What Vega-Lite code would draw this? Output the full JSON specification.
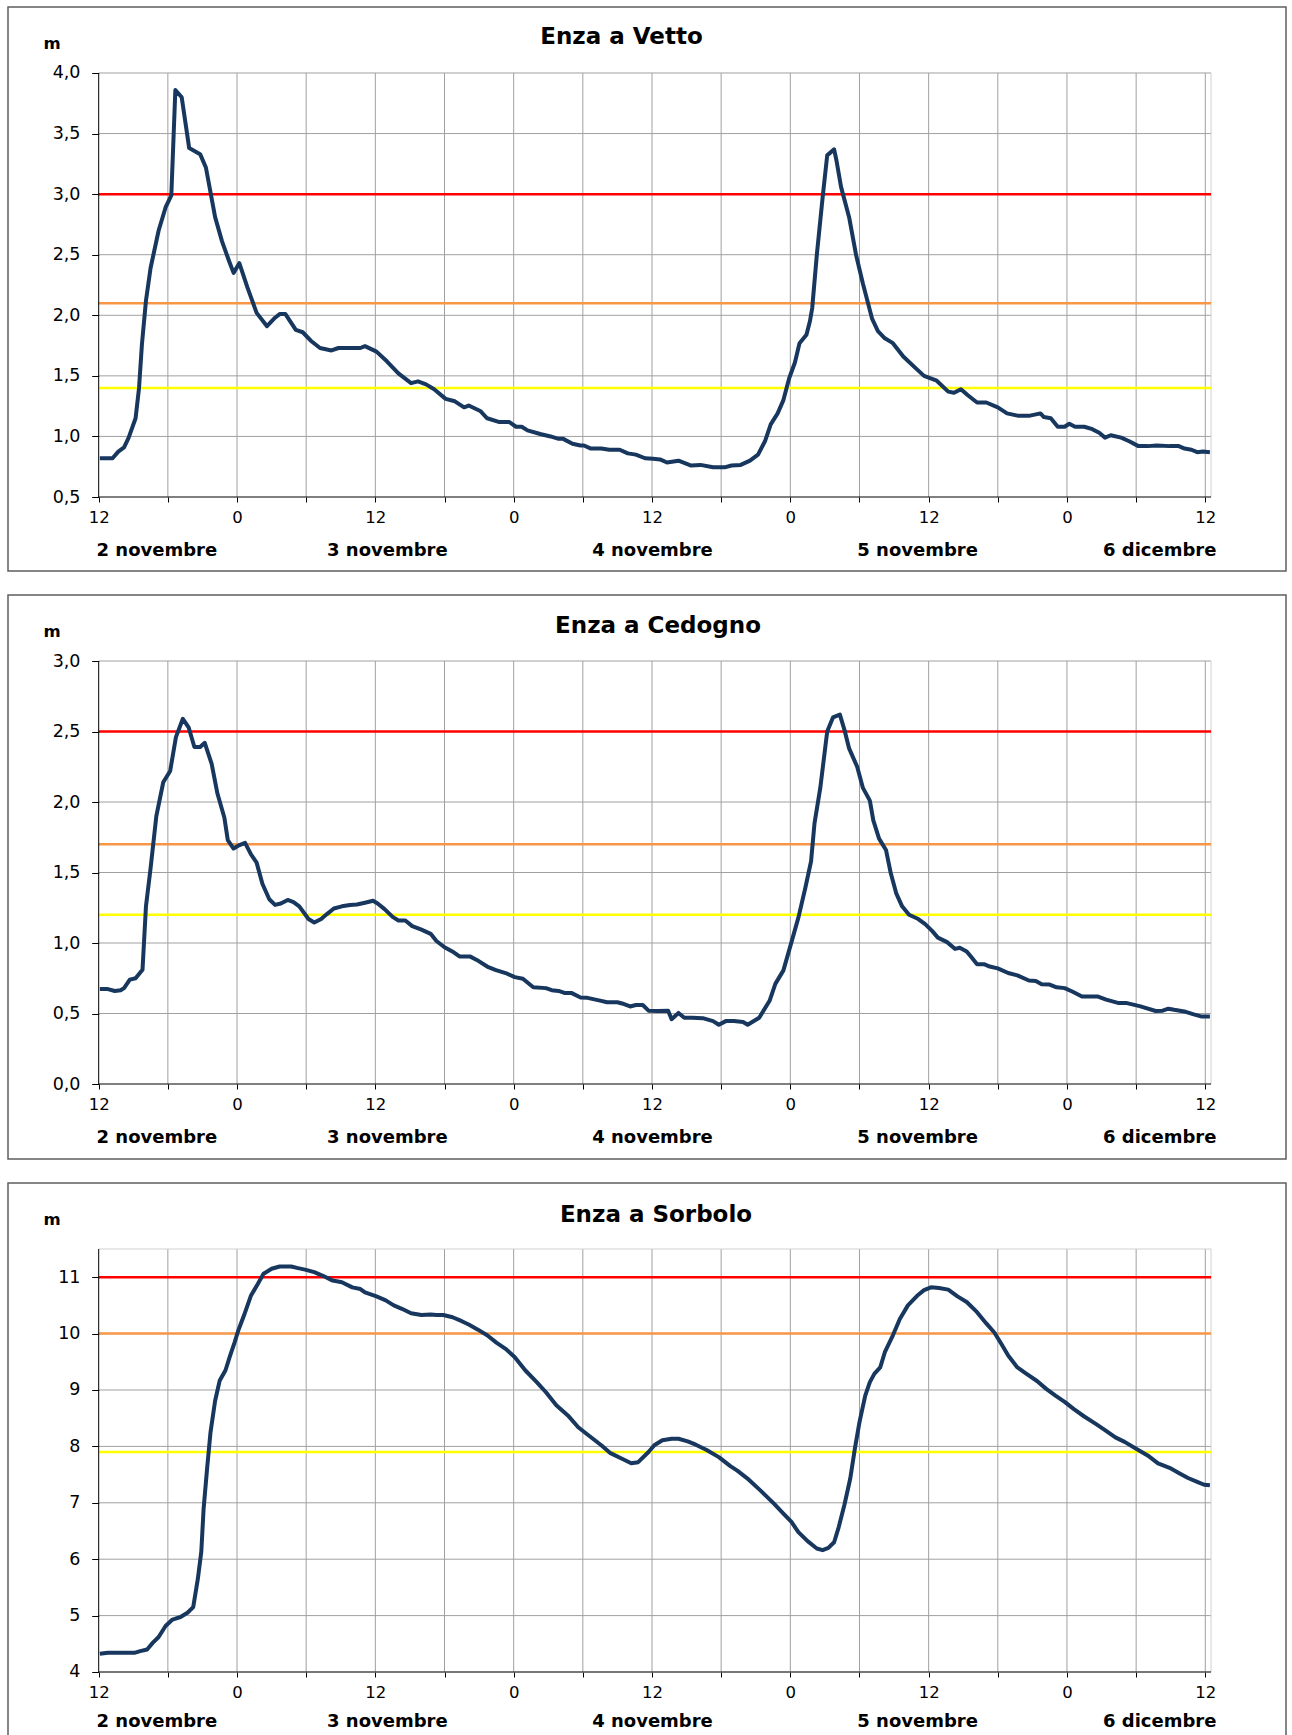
{
  "$schema": "https://vega.github.io/schema/vega-lite/v6.json",
  "background": "white",
  "padding": {"left": 7, "top": 6, "right": 0, "bottom": 0},
  "spacing": 22,
  "config": {
    "view": {"stroke": "#5f5f5f", "strokeWidth": 1.5, "fill": "white"},
    "axis": {"grid": false, "domain": false, "tickColor": "#000", "tickWidth": 1, "labelColor": "#000", "labelFont": "DejaVu Sans", "titleFont": "DejaVu Sans", "labelFlush": false, "labelOverlap": false, "labelBound": false},
    "title": {"font": "DejaVu Sans", "fontWeight": "bold", "color": "#000", "fontSize": 23, "anchor": "middle", "frame": "group", "baseline": "middle"}
  },
  "datasets": {
    "vetto": [
      {"ora":0.1,"livello":0.82},{"ora":1.2,"livello":0.82},{"ora":1.7,"livello":0.875},{"ora":2.2,"livello":0.91},{"ora":2.6,"livello":0.99},{"ora":3.2,"livello":1.15},{"ora":3.5,"livello":1.40},{"ora":3.75,"livello":1.76},{"ora":4.1,"livello":2.12},{"ora":4.5,"livello":2.39},{"ora":5.2,"livello":2.70},{"ora":5.8,"livello":2.89},{"ora":6.3,"livello":2.99},{"ora":6.65,"livello":3.86},{"ora":7.2,"livello":3.80},{"ora":7.85,"livello":3.38},{"ora":8.8,"livello":3.33},{"ora":9.3,"livello":3.22},{"ora":10.1,"livello":2.81},{"ora":10.7,"livello":2.61},{"ora":11.3,"livello":2.45},{"ora":11.7,"livello":2.35},{"ora":12.2,"livello":2.43},{"ora":12.9,"livello":2.23},{"ora":13.7,"livello":2.02},{"ora":14.6,"livello":1.91},{"ora":15.3,"livello":1.98},{"ora":15.7,"livello":2.01},{"ora":16.2,"livello":2.01},{"ora":17.1,"livello":1.88},{"ora":17.7,"livello":1.86},{"ora":18.4,"livello":1.79},{"ora":19.2,"livello":1.73},{"ora":20.2,"livello":1.71},{"ora":20.8,"livello":1.73},{"ora":21.7,"livello":1.73},{"ora":22.7,"livello":1.73},{"ora":23.1,"livello":1.745},{"ora":24.1,"livello":1.70},{"ora":25.0,"livello":1.62},{"ora":26.0,"livello":1.52},{"ora":27.1,"livello":1.44},{"ora":27.7,"livello":1.455},{"ora":28.4,"livello":1.43},{"ora":29.1,"livello":1.39},{"ora":30.1,"livello":1.31},{"ora":30.9,"livello":1.29},{"ora":31.7,"livello":1.24},{"ora":32.1,"livello":1.255},{"ora":33.1,"livello":1.21},{"ora":33.7,"livello":1.15},{"ora":34.7,"livello":1.12},{"ora":35.6,"livello":1.12},{"ora":36.2,"livello":1.08},{"ora":36.7,"livello":1.08},{"ora":37.2,"livello":1.05},{"ora":38.3,"livello":1.02},{"ora":39.2,"livello":1.00},{"ora":39.9,"livello":0.98},{"ora":40.3,"livello":0.98},{"ora":41.1,"livello":0.94},{"ora":41.8,"livello":0.925},{"ora":42.1,"livello":0.925},{"ora":42.7,"livello":0.90},{"ora":43.6,"livello":0.90},{"ora":44.3,"livello":0.89},{"ora":45.2,"livello":0.89},{"ora":45.9,"livello":0.86},{"ora":46.6,"livello":0.85},{"ora":47.4,"livello":0.82},
      {"ora":48.1,"livello":0.815},{"ora":48.7,"livello":0.81},{"ora":49.3,"livello":0.785},{"ora":50.3,"livello":0.80},{"ora":51.4,"livello":0.76},{"ora":52.2,"livello":0.765},{"ora":53.3,"livello":0.745},{"ora":54.3,"livello":0.745},{"ora":54.9,"livello":0.76},{"ora":55.7,"livello":0.765},{"ora":56.5,"livello":0.80},{"ora":57.2,"livello":0.85},{"ora":57.8,"livello":0.96},{"ora":58.3,"livello":1.10},{"ora":58.9,"livello":1.19},{"ora":59.4,"livello":1.30},{"ora":59.9,"livello":1.48},{"ora":60.4,"livello":1.61},{"ora":60.8,"livello":1.77},{"ora":61.4,"livello":1.84},{"ora":61.7,"livello":1.95},{"ora":61.9,"livello":2.06},{"ora":62.3,"livello":2.50},{"ora":62.8,"livello":2.97},{"ora":63.2,"livello":3.32},{"ora":63.8,"livello":3.37},{"ora":64.0,"livello":3.28},{"ora":64.4,"livello":3.06},{"ora":65.1,"livello":2.81},{"ora":65.7,"livello":2.50},{"ora":66.3,"livello":2.26},{"ora":67.1,"livello":1.97},{"ora":67.6,"livello":1.87},{"ora":68.2,"livello":1.81},{"ora":68.9,"livello":1.77},{"ora":69.8,"livello":1.66},{"ora":70.8,"livello":1.57},{"ora":71.6,"livello":1.50},{"ora":72.7,"livello":1.46},{"ora":73.7,"livello":1.37},{"ora":74.2,"livello":1.36},{"ora":74.8,"livello":1.39},{"ora":75.4,"livello":1.34},{"ora":76.2,"livello":1.28},{"ora":77.0,"livello":1.28},{"ora":78.0,"livello":1.24},{"ora":78.8,"livello":1.19},{"ora":79.8,"livello":1.17},{"ora":80.7,"livello":1.17},{"ora":81.7,"livello":1.19},{"ora":82.0,"livello":1.16},{"ora":82.6,"livello":1.15},{"ora":83.2,"livello":1.08},{"ora":83.8,"livello":1.08},{"ora":84.2,"livello":1.105},{"ora":84.7,"livello":1.08},{"ora":85.5,"livello":1.08},{"ora":86.2,"livello":1.06},{"ora":86.8,"livello":1.03},{"ora":87.3,"livello":0.99},{"ora":87.8,"livello":1.01},{"ora":88.7,"livello":0.99},{"ora":89.4,"livello":0.96},{"ora":90.2,"livello":0.92},{"ora":91.0,"livello":0.92},{"ora":91.8,"livello":0.925},{"ora":92.9,"livello":0.92},{"ora":93.7,"livello":0.92},{"ora":94.2,"livello":0.90},{"ora":94.8,"livello":0.89},{"ora":95.3,"livello":0.87},{"ora":95.8,"livello":0.875},{"ora":96.4,"livello":0.87}
    ],
    "cedogno": [
      {"ora":0.1,"livello":0.673},{"ora":0.8,"livello":0.673},{"ora":1.4,"livello":0.66},{"ora":1.9,"livello":0.665},{"ora":2.2,"livello":0.68},{"ora":2.7,"livello":0.74},{"ora":3.2,"livello":0.75},{"ora":3.8,"livello":0.81},{"ora":4.1,"livello":1.26},{"ora":4.5,"livello":1.53},{"ora":5.0,"livello":1.90},{"ora":5.6,"livello":2.14},{"ora":6.2,"livello":2.22},{"ora":6.7,"livello":2.46},{"ora":7.3,"livello":2.59},{"ora":7.8,"livello":2.53},{"ora":8.3,"livello":2.39},{"ora":8.8,"livello":2.39},{"ora":9.2,"livello":2.42},{"ora":9.8,"livello":2.27},{"ora":10.3,"livello":2.06},{"ora":10.9,"livello":1.89},{"ora":11.2,"livello":1.73},{"ora":11.7,"livello":1.67},{"ora":12.1,"livello":1.69},{"ora":12.7,"livello":1.71},{"ora":13.2,"livello":1.63},{"ora":13.7,"livello":1.57},{"ora":14.2,"livello":1.42},{"ora":14.8,"livello":1.31},{"ora":15.3,"livello":1.27},{"ora":15.8,"livello":1.28},{"ora":16.4,"livello":1.305},{"ora":16.9,"livello":1.29},{"ora":17.4,"livello":1.26},{"ora":18.2,"livello":1.17},{"ora":18.7,"livello":1.145},{"ora":19.3,"livello":1.17},{"ora":19.8,"livello":1.205},{"ora":20.4,"livello":1.245},{"ora":21.1,"livello":1.26},{"ora":21.8,"livello":1.27},{"ora":22.4,"livello":1.273},{"ora":23.1,"livello":1.286},{"ora":23.8,"livello":1.30},{"ora":24.2,"livello":1.28},{"ora":24.8,"livello":1.24},{"ora":25.5,"livello":1.185},{"ora":26.0,"livello":1.16},{"ora":26.6,"livello":1.16},{"ora":27.2,"livello":1.12},{"ora":28.0,"livello":1.095},{"ora":28.8,"livello":1.065},{"ora":29.3,"livello":1.014},{"ora":30.0,"livello":0.97},{"ora":30.8,"livello":0.934},{"ora":31.3,"livello":0.905},{"ora":32.2,"livello":0.905},{"ora":32.8,"livello":0.88},{"ora":33.7,"livello":0.833},{"ora":34.4,"livello":0.81},{"ora":35.3,"livello":0.787},{"ora":36.1,"livello":0.758},{"ora":36.8,"livello":0.747},{"ora":37.7,"livello":0.686},{"ora":38.8,"livello":0.68},{"ora":39.3,"livello":0.665},{"ora":39.9,"livello":0.66},{"ora":40.4,"livello":0.646},{"ora":41.0,"livello":0.646},{"ora":41.8,"livello":0.614},{"ora":42.4,"livello":0.611},{"ora":43.4,"livello":0.593},{"ora":44.1,"livello":0.58},{"ora":45.0,"livello":0.58},{"ora":45.4,"livello":0.571},{"ora":46.1,"livello":0.55},{"ora":46.6,"livello":0.56},{"ora":47.2,"livello":0.56},
      {"ora":47.7,"livello":0.52},{"ora":48.5,"livello":0.518},{"ora":49.4,"livello":0.52},{"ora":49.7,"livello":0.46},{"ora":50.3,"livello":0.504},{"ora":50.8,"livello":0.47},{"ora":51.5,"livello":0.47},{"ora":52.4,"livello":0.467},{"ora":53.3,"livello":0.446},{"ora":53.8,"livello":0.42},{"ora":54.4,"livello":0.446},{"ora":55.1,"livello":0.446},{"ora":55.9,"livello":0.44},{"ora":56.3,"livello":0.42},{"ora":57.3,"livello":0.47},{"ora":58.2,"livello":0.59},{"ora":58.7,"livello":0.71},{"ora":59.4,"livello":0.806},{"ora":60.1,"livello":1.006},{"ora":60.7,"livello":1.18},{"ora":61.3,"livello":1.39},{"ora":61.8,"livello":1.58},{"ora":62.1,"livello":1.85},{"ora":62.6,"livello":2.10},{"ora":63.2,"livello":2.50},{"ora":63.7,"livello":2.60},{"ora":64.3,"livello":2.62},{"ora":64.7,"livello":2.51},{"ora":65.1,"livello":2.38},{"ora":65.8,"livello":2.25},{"ora":66.3,"livello":2.10},{"ora":66.9,"livello":2.01},{"ora":67.2,"livello":1.87},{"ora":67.7,"livello":1.74},{"ora":68.3,"livello":1.66},{"ora":68.7,"livello":1.50},{"ora":69.2,"livello":1.35},{"ora":69.7,"livello":1.26},{"ora":70.3,"livello":1.20},{"ora":71.1,"livello":1.17},{"ora":71.7,"livello":1.134},{"ora":72.3,"livello":1.086},{"ora":72.8,"livello":1.038},{"ora":73.6,"livello":1.006},{"ora":74.3,"livello":0.958},{"ora":74.7,"livello":0.966},{"ora":75.3,"livello":0.94},{"ora":75.7,"livello":0.90},{"ora":76.2,"livello":0.85},{"ora":76.8,"livello":0.85},{"ora":77.3,"livello":0.833},{"ora":78.0,"livello":0.82},{"ora":78.9,"livello":0.787},{"ora":79.7,"livello":0.77},{"ora":80.7,"livello":0.734},{"ora":81.3,"livello":0.73},{"ora":81.8,"livello":0.707},{"ora":82.5,"livello":0.705},{"ora":83.1,"livello":0.686},{"ora":83.8,"livello":0.68},{"ora":84.5,"livello":0.654},{"ora":85.3,"livello":0.62},{"ora":86.7,"livello":0.62},{"ora":87.4,"livello":0.598},{"ora":88.5,"livello":0.574},{"ora":89.2,"livello":0.574},{"ora":90.3,"livello":0.552},{"ora":91.7,"livello":0.518},{"ora":92.3,"livello":0.52},{"ora":92.8,"livello":0.534},{"ora":93.3,"livello":0.526},{"ora":94.3,"livello":0.512},{"ora":95.0,"livello":0.494},{"ora":95.7,"livello":0.478},{"ora":96.4,"livello":0.478}
    ],
    "sorbolo": [
      {"ora":0.1,"livello":4.325},{"ora":0.8,"livello":4.34},{"ora":2.0,"livello":4.34},{"ora":3.1,"livello":4.34},{"ora":3.6,"livello":4.37},{"ora":4.2,"livello":4.40},{"ora":4.7,"livello":4.52},{"ora":5.2,"livello":4.62},{"ora":5.8,"livello":4.815},{"ora":6.4,"livello":4.93},{"ora":7.1,"livello":4.975},{"ora":7.7,"livello":5.05},{"ora":8.2,"livello":5.15},{"ora":8.6,"livello":5.65},{"ora":8.9,"livello":6.13},{"ora":9.1,"livello":6.89},{"ora":9.4,"livello":7.60},{"ora":9.7,"livello":8.25},{"ora":10.1,"livello":8.81},{"ora":10.5,"livello":9.17},{"ora":11.0,"livello":9.35},{"ora":11.4,"livello":9.61},{"ora":11.8,"livello":9.85},{"ora":12.1,"livello":10.05},{"ora":12.6,"livello":10.32},{"ora":13.2,"livello":10.67},{"ora":13.8,"livello":10.88},{"ora":14.3,"livello":11.06},{"ora":15.0,"livello":11.15},{"ora":15.7,"livello":11.19},{"ora":16.7,"livello":11.19},{"ora":17.2,"livello":11.165},{"ora":17.9,"livello":11.135},{"ora":18.7,"livello":11.09},{"ora":19.5,"livello":11.02},{"ora":20.3,"livello":10.94},{"ora":21.1,"livello":10.91},{"ora":22.0,"livello":10.82},{"ora":22.7,"livello":10.79},{"ora":23.1,"livello":10.73},{"ora":24.1,"livello":10.66},{"ora":24.9,"livello":10.59},{"ora":25.6,"livello":10.50},{"ora":26.3,"livello":10.44},{"ora":27.1,"livello":10.36},{"ora":28.0,"livello":10.33},{"ora":28.8,"livello":10.34},{"ora":29.3,"livello":10.33},{"ora":29.9,"livello":10.33},{"ora":30.7,"livello":10.29},{"ora":31.5,"livello":10.22},{"ora":32.1,"livello":10.16},{"ora":32.9,"livello":10.07},{"ora":33.7,"livello":9.97},{"ora":34.5,"livello":9.84},{"ora":35.3,"livello":9.73},{"ora":36.1,"livello":9.58},{"ora":37.0,"livello":9.35},{"ora":38.0,"livello":9.14},{"ora":38.8,"livello":8.96},{"ora":39.7,"livello":8.73},{"ora":40.7,"livello":8.55},{"ora":41.6,"livello":8.34},{"ora":42.4,"livello":8.21},{"ora":43.6,"livello":8.02},{"ora":44.4,"livello":7.88},{"ora":45.4,"livello":7.78},{"ora":46.2,"livello":7.70},{"ora":46.8,"livello":7.72},
      {"ora":47.7,"livello":7.90},{"ora":48.2,"livello":8.02},{"ora":48.9,"livello":8.11},{"ora":49.7,"livello":8.135},{"ora":50.3,"livello":8.135},{"ora":51.1,"livello":8.09},{"ora":51.8,"livello":8.03},{"ora":52.7,"livello":7.94},{"ora":53.8,"livello":7.81},{"ora":54.8,"livello":7.65},{"ora":55.4,"livello":7.57},{"ora":56.4,"livello":7.41},{"ora":57.4,"livello":7.22},{"ora":58.6,"livello":6.98},{"ora":59.4,"livello":6.81},{"ora":60.1,"livello":6.66},{"ora":60.7,"livello":6.48},{"ora":61.5,"livello":6.32},{"ora":62.3,"livello":6.19},{"ora":62.8,"livello":6.16},{"ora":63.3,"livello":6.20},{"ora":63.8,"livello":6.30},{"ora":64.2,"livello":6.57},{"ora":64.7,"livello":6.97},{"ora":65.2,"livello":7.43},{"ora":65.6,"livello":7.96},{"ora":66.0,"livello":8.43},{"ora":66.5,"livello":8.90},{"ora":66.9,"livello":9.14},{"ora":67.3,"livello":9.29},{"ora":67.8,"livello":9.40},{"ora":68.2,"livello":9.67},{"ora":68.9,"livello":9.97},{"ora":69.5,"livello":10.26},{"ora":70.2,"livello":10.50},{"ora":71.0,"livello":10.67},{"ora":71.6,"livello":10.77},{"ora":72.2,"livello":10.82},{"ora":72.9,"livello":10.81},{"ora":73.7,"livello":10.78},{"ora":74.5,"livello":10.66},{"ora":75.3,"livello":10.56},{"ora":76.2,"livello":10.38},{"ora":77.0,"livello":10.18},{"ora":77.7,"livello":10.02},{"ora":78.3,"livello":9.82},{"ora":78.9,"livello":9.61},{"ora":79.7,"livello":9.40},{"ora":80.4,"livello":9.30},{"ora":81.4,"livello":9.16},{"ora":82.2,"livello":9.02},{"ora":83.0,"livello":8.90},{"ora":83.8,"livello":8.79},{"ora":84.6,"livello":8.66},{"ora":85.5,"livello":8.53},{"ora":86.5,"livello":8.40},{"ora":87.3,"livello":8.29},{"ora":88.2,"livello":8.16},{"ora":89.0,"livello":8.08},{"ora":90.0,"livello":7.96},{"ora":91.0,"livello":7.84},{"ora":91.9,"livello":7.70},{"ora":92.9,"livello":7.62},{"ora":93.7,"livello":7.53},{"ora":94.5,"livello":7.44},{"ora":95.3,"livello":7.37},{"ora":95.9,"livello":7.32},{"ora":96.4,"livello":7.31}
    ],
    "ore": [{"ora":6},{"ora":12},{"ora":18},{"ora":24},{"ora":30},{"ora":36},{"ora":42},{"ora":48},{"ora":54},{"ora":60},{"ora":66},{"ora":72},{"ora":78},{"ora":84},{"ora":90},{"ora":96}]
  },
  "vconcat": [
    {
      "width": 1278, "height": 564,
      "title": {"text": "Enza a Vetto", "offset": -41.5, "dx": -25.5},
      "resolve": {"axis": {"x": "independent", "y": "independent"}},
      "layer": [
        {"data": {"name": "ore"}, "mark": {"type": "rule", "color": "#A0A0A0", "strokeWidth": 1},
         "encoding": {"x": {"field": "ora", "type": "quantitative", "scale": {"domain": [-7.8685, 103.002], "nice": false, "zero": false}, "axis": null},
                      "y": {"datum": 0.5, "scale": {"domain": [-0.1108, 4.5448], "nice": false, "zero": false}, "axis": null}, "y2": {"datum": 4.0}}},
        {"data": {"values": [{"livello":1.0},{"livello":1.5},{"livello":2.0},{"livello":2.5},{"livello":3.0},{"livello":3.5},{"livello":4.0}]}, "mark": {"type": "rule", "color": "#A0A0A0", "strokeWidth": 1},
         "encoding": {"y": {"field": "livello", "type": "quantitative", "scale": {"domain": [-0.1108, 4.5448], "nice": false, "zero": false}, "axis": null},
                      "x": {"datum": 0, "scale": {"domain": [-7.8685, 103.002], "nice": false, "zero": false}, "axis": null}, "x2": {"datum": 96.5}}},
        {"data": {"values": [{}]}, "mark": {"type": "rule", "color": "#D0D0D0", "strokeWidth": 1},
         "encoding": {"x": {"datum": 96.5, "scale": {"domain": [-7.8685, 103.002], "nice": false, "zero": false}, "axis": null},
                      "y": {"datum": 0.5, "scale": {"domain": [-0.1108, 4.5448], "nice": false, "zero": false}, "axis": null}, "y2": {"datum": 4.0}}},
        {"data": {"values": [{"livello":3.0,"soglia":"soglia 3"},{"livello":2.1,"soglia":"soglia 2"},{"livello":1.4,"soglia":"soglia 1"}]}, "mark": {"type": "rule", "strokeWidth": 2.5},
         "encoding": {"y": {"field": "livello", "type": "quantitative", "scale": {"domain": [-0.1108, 4.5448], "nice": false, "zero": false}, "axis": null},
                      "x": {"datum": 0, "scale": {"domain": [-7.8685, 103.002], "nice": false, "zero": false}, "axis": null}, "x2": {"datum": 96.5},
                      "color": {"field": "soglia", "type": "nominal", "scale": {"domain": ["soglia 3","soglia 2","soglia 1"], "range": ["#FF0000","#F79646","#FFFF00"]}, "legend": null}}},
        {"data": {"values": [{}]}, "mark": {"type": "rule", "color": "#000", "strokeWidth": 1},
         "encoding": {"x": {"datum": 0, "scale": {"domain": [-7.8685, 103.002], "nice": false, "zero": false},
                            "axis": {"orient": "bottom", "offset": -74, "values": [5, 25, 48, 71, 92], "ticks": false, "tickSize": 0, "labelPadding": 53, "labelBaseline": "middle", "labelFontSize": 18, "labelFontWeight": "bold", "labelExpr": "datum.value < 15 ? '2 novembre' : datum.value < 35 ? '3 novembre' : datum.value < 60 ? '4 novembre' : datum.value < 80 ? '5 novembre' : '6 dicembre'", "title": null}},
                      "x2": {"datum": 96.5},
                      "y": {"datum": 0.5, "scale": {"domain": [-0.1108, 4.5448], "nice": false, "zero": false}, "axis": null}}},
        {"data": {"values": [{}]}, "mark": {"type": "rule", "color": "#000", "strokeWidth": 1},
         "encoding": {"x": {"datum": 0, "scale": {"domain": [-7.8685, 103.002], "nice": false, "zero": false}, "axis": null},
                      "y": {"datum": 0.5, "scale": {"domain": [-0.1108, 4.5448], "nice": false, "zero": false}, "axis": null}, "y2": {"datum": 4.0}}},
        {"data": {"name": "vetto"}, "mark": {"type": "line", "color": "#17375E", "strokeWidth": 4, "strokeJoin": "round"},
         "encoding": {"x": {"field": "ora", "type": "quantitative", "scale": {"domain": [-7.8685, 103.002], "nice": false, "zero": false},
                            "axis": {"orient": "bottom", "offset": -74, "values": [0,6,12,18,24,30,36,42,48,54,60,66,72,78,84,90,96], "tickSize": 5, "labelPadding": 15.5, "labelBaseline": "middle", "labelFontSize": 16.5, "labelExpr": "datum.value % 24 == 0 ? '12' : (datum.value % 24 == 12 ? '0' : '')", "title": null}},
                      "y": {"field": "livello", "type": "quantitative", "scale": {"domain": [-0.1108, 4.5448], "nice": false, "zero": false},
                            "axis": {"orient": "left", "offset": -90.7, "values": [0.5,1.0,1.5,2.0,2.5,3.0,3.5,4.0], "tickSize": 7, "labelPadding": 11.7, "labelFontSize": 17.5, "labelExpr": "replace(format(datum.value, '.1f'), '.', ',')", "title": "m", "titleAngle": 0, "titleX": -47.2, "titleY": 36, "titleAlign": "center", "titleBaseline": "middle", "titleFontSize": 16.5, "titleFontWeight": "bold", "titleColor": "#000"}}}}
      ]
    },
    {
      "width": 1278, "height": 564,
      "title": {"text": "Enza a Cedogno", "offset": -43, "dx": 11},
      "resolve": {"axis": {"x": "independent", "y": "independent"}},
      "layer": [
        {"data": {"name": "ore"}, "mark": {"type": "rule", "color": "#A0A0A0", "strokeWidth": 1},
         "encoding": {"x": {"field": "ora", "type": "quantitative", "scale": {"domain": [-7.8685, 103.002], "nice": false, "zero": false}, "axis": null},
                      "y": {"datum": 0, "scale": {"domain": [-0.5319, 3.4681], "nice": false, "zero": false}, "axis": null}, "y2": {"datum": 3.0}}},
        {"data": {"values": [{"livello":0.5},{"livello":1.0},{"livello":1.5},{"livello":2.0},{"livello":2.5},{"livello":3.0}]}, "mark": {"type": "rule", "color": "#A0A0A0", "strokeWidth": 1},
         "encoding": {"y": {"field": "livello", "type": "quantitative", "scale": {"domain": [-0.5319, 3.4681], "nice": false, "zero": false}, "axis": null},
                      "x": {"datum": 0, "scale": {"domain": [-7.8685, 103.002], "nice": false, "zero": false}, "axis": null}, "x2": {"datum": 96.5}}},
        {"data": {"values": [{}]}, "mark": {"type": "rule", "color": "#D0D0D0", "strokeWidth": 1},
         "encoding": {"x": {"datum": 96.5, "scale": {"domain": [-7.8685, 103.002], "nice": false, "zero": false}, "axis": null},
                      "y": {"datum": 0, "scale": {"domain": [-0.5319, 3.4681], "nice": false, "zero": false}, "axis": null}, "y2": {"datum": 3.0}}},
        {"data": {"values": [{"livello":2.5,"soglia":"soglia 3"},{"livello":1.7,"soglia":"soglia 2"},{"livello":1.2,"soglia":"soglia 1"}]}, "mark": {"type": "rule", "strokeWidth": 2.5},
         "encoding": {"y": {"field": "livello", "type": "quantitative", "scale": {"domain": [-0.5319, 3.4681], "nice": false, "zero": false}, "axis": null},
                      "x": {"datum": 0, "scale": {"domain": [-7.8685, 103.002], "nice": false, "zero": false}, "axis": null}, "x2": {"datum": 96.5},
                      "color": {"field": "soglia", "type": "nominal", "scale": {"domain": ["soglia 3","soglia 2","soglia 1"], "range": ["#FF0000","#F79646","#FFFF00"]}, "legend": null}}},
        {"data": {"values": [{}]}, "mark": {"type": "rule", "color": "#000", "strokeWidth": 1},
         "encoding": {"x": {"datum": 0, "scale": {"domain": [-7.8685, 103.002], "nice": false, "zero": false},
                            "axis": {"orient": "bottom", "offset": -75, "values": [5, 25, 48, 71, 92], "ticks": false, "tickSize": 0, "labelPadding": 53, "labelBaseline": "middle", "labelFontSize": 18, "labelFontWeight": "bold", "labelExpr": "datum.value < 15 ? '2 novembre' : datum.value < 35 ? '3 novembre' : datum.value < 60 ? '4 novembre' : datum.value < 80 ? '5 novembre' : '6 dicembre'", "title": null}},
                      "x2": {"datum": 96.5},
                      "y": {"datum": 0, "scale": {"domain": [-0.5319, 3.4681], "nice": false, "zero": false}, "axis": null}}},
        {"data": {"values": [{}]}, "mark": {"type": "rule", "color": "#000", "strokeWidth": 1},
         "encoding": {"x": {"datum": 0, "scale": {"domain": [-7.8685, 103.002], "nice": false, "zero": false}, "axis": null},
                      "y": {"datum": 0, "scale": {"domain": [-0.5319, 3.4681], "nice": false, "zero": false}, "axis": null}, "y2": {"datum": 3.0}}},
        {"data": {"name": "cedogno"}, "mark": {"type": "line", "color": "#17375E", "strokeWidth": 4, "strokeJoin": "round"},
         "encoding": {"x": {"field": "ora", "type": "quantitative", "scale": {"domain": [-7.8685, 103.002], "nice": false, "zero": false},
                            "axis": {"orient": "bottom", "offset": -75, "values": [0,6,12,18,24,30,36,42,48,54,60,66,72,78,84,90,96], "tickSize": 5, "labelPadding": 15.5, "labelBaseline": "middle", "labelFontSize": 16.5, "labelExpr": "datum.value % 24 == 0 ? '12' : (datum.value % 24 == 12 ? '0' : '')", "title": null}},
                      "y": {"field": "livello", "type": "quantitative", "scale": {"domain": [-0.5319, 3.4681], "nice": false, "zero": false},
                            "axis": {"orient": "left", "offset": -90.7, "values": [0,0.5,1.0,1.5,2.0,2.5,3.0], "tickSize": 7, "labelPadding": 11.7, "labelFontSize": 17.5, "labelExpr": "replace(format(datum.value, '.1f'), '.', ',')", "title": "m", "titleAngle": 0, "titleX": -47.2, "titleY": 36, "titleAlign": "center", "titleBaseline": "middle", "titleFontSize": 16.5, "titleFontWeight": "bold", "titleColor": "#000"}}}}
      ]
    },
    {
      "width": 1278, "height": 564,
      "title": {"text": "Enza a Sorbolo", "offset": -44, "dx": 9},
      "resolve": {"axis": {"x": "independent", "y": "independent"}},
      "layer": [
        {"data": {"name": "ore"}, "mark": {"type": "rule", "color": "#A0A0A0", "strokeWidth": 1},
         "encoding": {"x": {"field": "ora", "type": "quantitative", "scale": {"domain": [-7.8685, 103.002], "nice": false, "zero": false}, "axis": null},
                      "y": {"datum": 4, "scale": {"domain": [2.6702, 12.6702], "nice": false, "zero": false}, "axis": null}, "y2": {"datum": 11.5}}},
        {"data": {"values": [{"livello":5},{"livello":6},{"livello":7},{"livello":8},{"livello":9},{"livello":10},{"livello":11}]}, "mark": {"type": "rule", "color": "#A0A0A0", "strokeWidth": 1},
         "encoding": {"y": {"field": "livello", "type": "quantitative", "scale": {"domain": [2.6702, 12.6702], "nice": false, "zero": false}, "axis": null},
                      "x": {"datum": 0, "scale": {"domain": [-7.8685, 103.002], "nice": false, "zero": false}, "axis": null}, "x2": {"datum": 96.5}}},
        {"data": {"values": [{}]}, "mark": {"type": "rule", "color": "#D0D0D0", "strokeWidth": 1},
         "encoding": {"x": {"datum": 96.5, "scale": {"domain": [-7.8685, 103.002], "nice": false, "zero": false}, "axis": null},
                      "y": {"datum": 4, "scale": {"domain": [2.6702, 12.6702], "nice": false, "zero": false}, "axis": null}, "y2": {"datum": 11.5}}},
        {"data": {"values": [{}]}, "mark": {"type": "rule", "color": "#D0D0D0", "strokeWidth": 1},
         "encoding": {"y": {"datum": 11.5, "scale": {"domain": [2.6702, 12.6702], "nice": false, "zero": false}, "axis": null},
                      "x": {"datum": 0, "scale": {"domain": [-7.8685, 103.002], "nice": false, "zero": false}, "axis": null}, "x2": {"datum": 96.5}}},
        {"data": {"values": [{"livello":11,"soglia":"soglia 3"},{"livello":10,"soglia":"soglia 2"},{"livello":7.9,"soglia":"soglia 1"}]}, "mark": {"type": "rule", "strokeWidth": 2.5},
         "encoding": {"y": {"field": "livello", "type": "quantitative", "scale": {"domain": [2.6702, 12.6702], "nice": false, "zero": false}, "axis": null},
                      "x": {"datum": 0, "scale": {"domain": [-7.8685, 103.002], "nice": false, "zero": false}, "axis": null}, "x2": {"datum": 96.5},
                      "color": {"field": "soglia", "type": "nominal", "scale": {"domain": ["soglia 3","soglia 2","soglia 1"], "range": ["#FF0000","#F79646","#FFFF00"]}, "legend": null}}},
        {"data": {"values": [{}]}, "mark": {"type": "rule", "color": "#4a4a4a", "strokeWidth": 1.5},
         "encoding": {"x": {"datum": 0, "scale": {"domain": [-7.8685, 103.002], "nice": false, "zero": false},
                            "axis": {"orient": "bottom", "offset": -75, "values": [5, 25, 48, 71, 92], "ticks": false, "tickSize": 0, "labelPadding": 49, "labelBaseline": "middle", "labelFontSize": 18, "labelFontWeight": "bold", "labelExpr": "datum.value < 15 ? '2 novembre' : datum.value < 35 ? '3 novembre' : datum.value < 60 ? '4 novembre' : datum.value < 80 ? '5 novembre' : '6 dicembre'", "title": null}},
                      "x2": {"datum": 96.5},
                      "y": {"datum": 4, "scale": {"domain": [2.6702, 12.6702], "nice": false, "zero": false}, "axis": null}}},
        {"data": {"values": [{}]}, "mark": {"type": "rule", "color": "#000", "strokeWidth": 1},
         "encoding": {"x": {"datum": 0, "scale": {"domain": [-7.8685, 103.002], "nice": false, "zero": false}, "axis": null},
                      "y": {"datum": 4, "scale": {"domain": [2.6702, 12.6702], "nice": false, "zero": false}, "axis": null}, "y2": {"datum": 11.5}}},
        {"data": {"name": "sorbolo"}, "mark": {"type": "line", "color": "#17375E", "strokeWidth": 4, "strokeJoin": "round"},
         "encoding": {"x": {"field": "ora", "type": "quantitative", "scale": {"domain": [-7.8685, 103.002], "nice": false, "zero": false},
                            "axis": {"orient": "bottom", "offset": -75, "values": [0,6,12,18,24,30,36,42,48,54,60,66,72,78,84,90,96], "tickSize": 5, "labelPadding": 15, "labelBaseline": "middle", "labelFontSize": 16.5, "labelExpr": "datum.value % 24 == 0 ? '12' : (datum.value % 24 == 12 ? '0' : '')", "title": null}},
                      "y": {"field": "livello", "type": "quantitative", "scale": {"domain": [2.6702, 12.6702], "nice": false, "zero": false},
                            "axis": {"orient": "left", "offset": -90.7, "values": [4,5,6,7,8,9,10,11], "tickSize": 7, "labelPadding": 11.7, "labelFontSize": 17.5, "title": "m", "titleAngle": 0, "titleX": -47.2, "titleY": 36, "titleAlign": "center", "titleBaseline": "middle", "titleFontSize": 16.5, "titleFontWeight": "bold", "titleColor": "#000"}}}}
      ]
    }
  ]
}
